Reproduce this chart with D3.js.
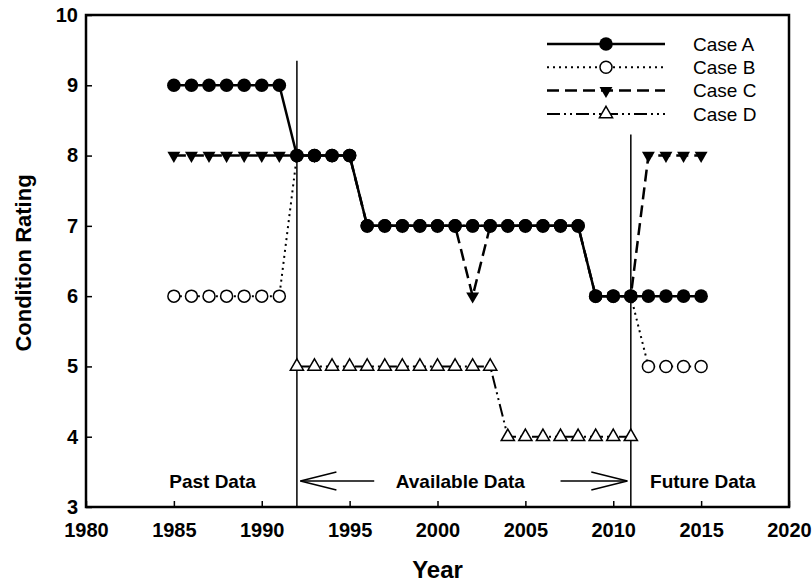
<!DOCTYPE html>
<html>
<head>
<meta charset="utf-8">
<script src="https://cdn.jsdelivr.net/npm/d3@7"></script>
<style>
    body { margin: 0; background: #fff; }
    svg text { font-family: Arial, "Liberation Sans", sans-serif; fill: #000; }
    svg .tick text { font-family: "Liberation Sans Narrow", "Arial Narrow", Arial, sans-serif; }
</style>
</head>
<body>
<div class="chart"></div>
<script>
// years shown on the chart
const years = d3.range(1985, 2016);

// condition ratings per case (null = no value that year)
const caseA = [9,9,9,9,9,9,9, 8,8,8,8, 7,7,7,7,7,7,7,7,7,7,7,7,7, 6,6,6,6,6,6,6];
const caseB = [6,6,6,6,6,6,6, 8,8,8,8, 7,7,7,7,7,7,7,7,7,7,7,7,7, 6,6,6, 5,5,5,5];
const caseC = [8,8,8,8,8,8,8, 8,8,8,8, 7,7,7,7,7,7,6,7,7,7,7,7,7, 6,6,6, 8,8,8,8];
const caseD = [null,null,null,null,null,null,null, 5,5,5,5,5,5,5,5,5,5,5,5, 4,4,4,4,4,4,4,4, null,null,null,null];

// case B points that show above case A
const caseBOnTop = [2002];

const caseNames = ["Case A", "Case B", "Case C", "Case D"];
const xTicks = [1980, 1985, 1990, 1995, 2000, 2005, 2010, 2015, 2020];
const yTicks = [3, 4, 5, 6, 7, 8, 9, 10];

// period dividers and annotations
const dividerYears = [1992, 2011];
const dividerTops = [9.35, 8.3];
const periodLabels = ["Past Data", "Available Data", "Future Data"];
const periodLabelYears = [1987.2, 2001.3, 2015.1];

let margin = {top: 15, right: 23, bottom: 77, left: 86},
    fullWidth = 812, fullHeight = 584,
    width = fullWidth - margin.left - margin.right,
    height = fullHeight - margin.top - margin.bottom;

let svg = d3.select(".chart")
    .append("svg")
    .attr("width", fullWidth)
    .attr("height", fullHeight)
    .append("g")
    .attr("transform", "translate(" + margin.left + "," + margin.top + ")");

let xScale = d3.scaleLinear().domain([1980, 2020]).range([0, width]);
let yScale = d3.scaleLinear().domain([3, 10]).range([height, 0]);

// axes with inward ticks
svg.append("g")
    .attr("class", "x-axis")
    .attr("transform", "translate(0," + height + ")")
    .call(d3.axisBottom(xScale).tickValues(xTicks).tickFormat(d3.format("d")).tickSizeInner(-6).tickSizeOuter(0).tickPadding(16))
    .call(g => g.select(".domain").remove())
    .call(g => g.selectAll("line").attr("stroke-width", 1.5))
    .selectAll("text")
    .style("font-size", "20px").style("font-weight", "bold");

svg.append("g")
    .attr("class", "y-axis")
    .call(d3.axisLeft(yScale).tickValues(yTicks).tickFormat(d3.format("d")).tickSizeInner(-6).tickSizeOuter(0).tickPadding(8))
    .call(g => g.select(".domain").remove())
    .call(g => g.selectAll("line").attr("stroke-width", 1.5))
    .selectAll("text")
    .style("font-size", "20px").style("font-weight", "bold");

// frame
svg.append("rect")
    .attr("width", width).attr("height", height)
    .attr("fill", "none").attr("stroke", "#000").attr("stroke-width", 2.5);

// axis titles
svg.append("text")
    .attr("transform", "translate(-55," + (height / 2 + 2) + ") rotate(-90)")
    .attr("text-anchor", "middle")
    .style("font-size", "22px").style("font-weight", "bold")
    .text("Condition Rating");

svg.append("text")
    .attr("x", width / 2).attr("y", height + 71)
    .attr("text-anchor", "middle")
    .style("font-size", "24px").style("font-weight", "bold")
    .text("Year");

// period dividers
svg.selectAll(".divider").data(dividerYears).enter().append("line")
    .attr("class", "divider")
    .attr("x1", d => xScale(d)).attr("x2", d => xScale(d))
    .attr("y1", (d, i) => yScale(dividerTops[i])).attr("y2", height)
    .attr("stroke", "#000").attr("stroke-width", 1.5);

svg.selectAll(".period").data(periodLabels).enter().append("text")
    .attr("class", "period")
    .attr("x", (d, i) => xScale(periodLabelYears[i]))
    .attr("y", yScale(3.27))
    .attr("text-anchor", "middle")
    .style("font-size", "19px").style("font-weight", "bold")
    .text(d => d);

// open arrows around "Available Data"
function arrow(fromYear, toYear) {
    let y = yScale(3.37), x0 = xScale(fromYear), x1 = xScale(toYear);
    let dir = Math.sign(x1 - x0);
    let g = svg.append("g").attr("stroke", "#000").attr("stroke-width", 1.5).attr("fill", "none");
    g.append("line").attr("x1", x0).attr("x2", x1).attr("y1", y).attr("y2", y);
    g.append("path").attr("d", "M" + (x1 - dir * 36) + "," + (y - 9) + "L" + x1 + "," + y + "L" + (x1 - dir * 36) + "," + (y + 9));
}
arrow(1996.4, 1992.2);
arrow(2007, 2010.8);

// series definitions
let series = [
    {name: caseNames[0], values: caseA, dash: null, width: 2.5},
    {name: caseNames[1], values: caseB, dash: "2,4", width: 2},
    {name: caseNames[2], values: caseC, dash: "12,6", width: 2.5},
    {name: caseNames[3], values: caseD, dash: "13,4,2,4,2,4", width: 2}
];

let line = d3.line()
    .defined(d => d.value !== null)
    .x(d => xScale(d.year))
    .y(d => yScale(d.value));

let points = s => years.map((y, i) => ({year: y, value: s.values[i]})).filter(d => d.value !== null);

// lines, drawn D first and A last
[3, 2, 1, 0].forEach(i => {
    let s = series[i];
    svg.append("path")
        .datum(years.map((y, j) => ({year: y, value: s.values[j]})))
        .attr("fill", "none").attr("stroke", "#000")
        .attr("stroke-width", s.width)
        .attr("stroke-dasharray", s.dash)
        .attr("d", line);
});

// marker shapes
function marker(g, i) {
    if (i === 0) {
        g.append("circle").attr("r", 6.8).attr("fill", "#000");
    } else if (i === 1) {
        g.append("circle").attr("r", 6).attr("fill", "#fff").attr("stroke", "#000").attr("stroke-width", 1.5);
    } else if (i === 2) {
        g.append("path").attr("d", d3.symbol(d3.symbolTriangle, 72)())
            .attr("transform", "rotate(180)").attr("fill", "#000");
    } else {
        g.append("path").attr("d", d3.symbol(d3.symbolTriangle, 75)())
            .attr("fill", "#fff").attr("stroke", "#000").attr("stroke-width", 1.5);
    }
}

function drawMarkers(i, data) {
    svg.selectAll(".m" + i).data(data).enter().append("g")
        .attr("class", "m" + i)
        .attr("transform", d => "translate(" + xScale(d.year) + "," + yScale(d.value) + ")")
        .each(function() { marker(d3.select(this), i); });
}

drawMarkers(3, points(series[3]));
drawMarkers(2, points(series[2]));
drawMarkers(1, points(series[1]));
drawMarkers(0, points(series[0]));
drawMarkers(1, points(series[1]).filter(d => caseBOnTop.includes(d.year)));

// legend
let legend = svg.append("g").attr("transform", "translate(" + (547 - margin.left) + "," + (44 - margin.top) + ")");
series.forEach((s, i) => {
    let row = legend.append("g").attr("transform", "translate(0," + (i * 23.3) + ")");
    row.append("line").attr("x1", 0).attr("x2", 118)
        .attr("stroke", "#000").attr("stroke-width", s.width).attr("stroke-dasharray", s.dash);
    let m = row.append("g").attr("transform", "translate(59,0)");
    marker(m, i);
    row.append("text").attr("x", 146).attr("dy", "0.36em")
        .style("font-size", "19px")
        .text(s.name);
});
</script>
</body>
</html>
